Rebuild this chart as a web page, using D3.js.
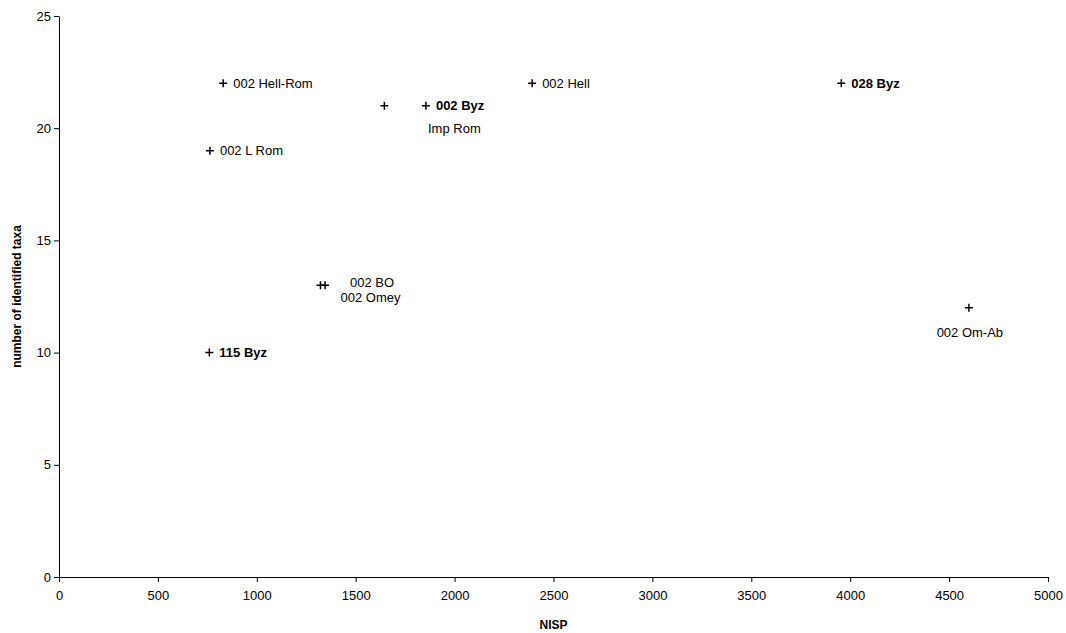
<!DOCTYPE html>
<html><head><meta charset="utf-8">
<script src="https://cdn.jsdelivr.net/npm/d3@7/dist/d3.min.js"></script>
<style>body{margin:0;background:#fff}svg{display:block}text{font-family:"Liberation Sans",Arial,sans-serif;fill:#000}</style>
</head><body><svg id="c" width="1066" height="633"></svg>
<script>
const labels = ["002 Hell-Rom","002 L Rom","115 Byz","Imp Rom","002 Byz","002 Hell","028 Byz","002 BO","002 Omey","002 Om-Ab"];
const nisp =   [830, 763, 760, 1645, 1855, 2392, 3955, 1345, 1322, 4600];
const taxa =   [22, 19, 10, 21, 21, 22, 22, 13, 13, 12];
const boldLabel = [false,false,true,false,true,false,true,false,false,false];
const labelPlace = ["right","right","right","farBelow","right","right","right","aboveRight","belowRight","below"];
const xTicks = [0,500,1000,1500,2000,2500,3000,3500,4000,4500,5000];
const yTicks = [0,5,10,15,20,25];

const svg = d3.select("#c");
const m = {l:59, r:18, t:16, b:56};
const W = 1066, H = 633;
const x = d3.scaleLinear().domain([0,5000]).range([m.l, W-m.r]);
const y = d3.scaleLinear().domain([0,25]).range([H-m.b, m.t]);

const xa = svg.append("g").attr("transform",`translate(0,${H-m.b})`)
  .call(d3.axisBottom(x).tickValues(xTicks).tickFormat(d3.format("d")).tickSize(5).tickPadding(9).tickSizeOuter(0));
const ya = svg.append("g").attr("transform",`translate(${m.l},0)`)
  .call(d3.axisLeft(y).tickValues(yTicks).tickFormat(d3.format("d")).tickSize(5).tickPadding(3).tickSizeOuter(0));
[xa,ya].forEach(a=>{a.selectAll("text").attr("font-size",13).attr("font-family","Liberation Sans, Arial, sans-serif").attr("fill","#000");
  a.selectAll("line,path").attr("stroke","#000");});

svg.append("text").attr("x",(m.l+W-m.r)/2).attr("y",629).attr("text-anchor","middle")
  .attr("font-size",12).attr("font-weight","bold").text("NISP");
svg.append("text").attr("transform",`translate(21,${(m.t+H-m.b)/2}) rotate(-90)`).attr("text-anchor","middle")
  .attr("font-size",12).attr("font-weight","bold").text("number of identified taxa");

const data = labels.map((l,i)=>({l, x:nisp[i], y:taxa[i], b:boldLabel[i], p:labelPlace[i]}));
const s = 4;
const g = svg.append("g");
data.forEach(d=>{
  const cx = x(d.x), cy = y(d.y);
  g.append("path").attr("d",`M${cx-s},${cy}H${cx+s}M${cx},${cy-s}V${cy+s}`)
    .attr("stroke","#000").attr("stroke-width",1.5).attr("fill","none");
  let tx=cx, ty=cy, anchor="start";
  if(d.p==="right"){tx=cx+10; ty=cy+4.5;}
  else if(d.p==="below"){tx=cx+1; ty=cy+29; anchor="middle";}
  else if(d.p==="farBelow"){tx=cx+70; ty=cy+27; anchor="middle";}
  else if(d.p==="aboveRight"){tx=cx+47; ty=cy+2; anchor="middle";}
  else if(d.p==="belowRight"){tx=cx+50; ty=cy+17; anchor="middle";}
  g.append("text").attr("x",tx).attr("y",ty).attr("text-anchor",anchor)
    .attr("font-size",13).attr("font-weight",d.b?"bold":"normal").text(d.l);
});
</script></body></html>
